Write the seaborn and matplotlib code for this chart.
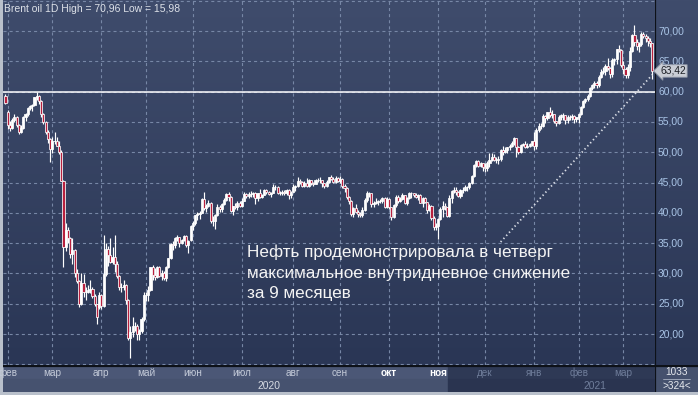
import numpy as np
import pandas as pd
import seaborn as sns
import matplotlib.pyplot as plt
from matplotlib.colors import LinearSegmentedColormap

# Brent oil, daily candles 31.01.2020 - 18.03.2021
open_ = [59.3,
    56.6, 54.5, 54.0, 55.3, 55.9, 54.5, 53.3, 54.0, 55.8, 56.3, 57.3, 57.7, 57.8, 59.1, 59.3, 58.5, 56.3, 55.0, 53.4, 52.2,
    50.5, 51.9, 51.9, 51.1, 50.0, 45.3, 34.4, 37.2, 35.8, 33.2, 33.9, 30.1, 28.7, 24.9, 28.5, 27.0, 27.0, 27.2, 27.4, 26.3, 24.9, 24.5,
    26.4, 24.7, 29.9, 34.1, 33.1, 31.9, 32.8, 31.5, 29.6, 27.7, 27.8, 28.1, 25.6, 19.3, 20.4, 21.3, 21.4, 20.0, 20.5, 22.5,
    26.5, 26.4, 27.2, 31.0, 29.7, 29.5, 31.0, 29.6, 30.0, 29.2, 31.1, 32.5, 34.8, 34.7, 35.8, 36.1, 35.1, 35.5, 36.2, 34.7, 35.6,
    37.8, 38.3, 39.6, 39.8, 40.0, 42.3, 40.8, 41.2, 41.7, 38.6, 38.7, 39.7, 41.0, 40.7, 41.5, 42.2, 43.1, 42.6, 40.3, 41.1, 41.0, 41.7,
    41.2, 42.0, 43.1, 42.8, 43.1, 43.1, 43.3, 42.4, 43.2, 42.7, 42.9, 43.8, 43.4, 43.1, 43.3, 44.3, 44.3, 43.3, 43.3, 43.4, 43.2, 43.8, 42.9,
    43.5, 44.2, 44.4, 45.2, 45.1, 44.4, 45.0, 44.5, 45.4, 45.0, 44.8, 45.4, 45.5, 45.4, 44.9, 44.4, 45.1, 45.9, 45.6, 45.1, 45.8,
    45.3, 45.6, 44.4, 44.1, 42.7, 42.0, 39.8, 40.8, 40.1, 39.8, 39.6, 40.5, 42.2, 43.3, 43.2, 41.4, 41.7, 41.8, 41.9, 41.9, 42.4, 41.0,
    42.3, 40.9, 39.3, 41.3, 42.7, 42.0, 42.3, 42.9, 41.7, 42.5, 43.3, 43.2, 42.9, 42.6, 42.9, 41.7, 42.5, 41.8, 40.5, 41.2, 39.1, 37.7,
    37.9, 39.0, 40.7, 41.2, 40.9, 39.5, 42.4, 43.6, 43.8, 43.5, 42.8, 43.8, 43.8, 44.3, 44.2, 45.0, 46.1, 47.9, 48.6, 47.8, 48.2,
    47.6, 47.4, 48.3, 48.7, 49.3, 48.8, 48.8, 48.9, 50.3, 50.0, 50.3, 50.8, 51.1, 51.5, 52.3, 50.9, 50.1, 51.2, 51.3, 50.9, 51.1, 51.3,
    51.8, 51.1, 53.6, 54.3, 54.4, 56.0, 55.7, 56.6, 56.1, 56.4, 55.1, 54.8, 55.9, 56.1, 56.1, 55.4, 55.9, 55.9, 56.0, 55.5,
    55.9, 56.4, 57.5, 58.5, 58.8, 59.3, 60.6, 61.1, 61.5, 61.1, 62.4, 63.3, 63.4, 64.3, 63.9, 62.9, 65.2, 65.4, 67.0, 66.9,
    64.4, 63.7, 62.7, 64.1, 66.7, 69.4, 68.2, 67.5, 67.9, 69.6, 69.2, 68.9, 68.4, 68.0]

high = [59.6,
    56.9, 55.1, 55.6, 56.4, 56.0, 54.6, 54.5, 56.0, 56.5, 57.4, 57.8, 58.0, 59.2, 59.9, 59.4, 58.6, 56.5, 55.2, 53.6, 52.3,
    52.5, 53.3, 52.6, 51.8, 50.4, 45.5, 38.4, 37.7, 36.0, 35.9, 34.0, 30.8, 29.0, 30.0, 29.9, 27.7, 28.1, 28.9, 27.8, 26.6, 25.0, 27.0,
    26.6, 36.3, 35.0, 34.5, 35.9, 34.4, 36.4, 32.0, 29.8, 28.5, 28.9, 28.3, 25.8, 21.3, 22.8, 22.0, 21.6, 20.9, 22.9, 26.9,
    26.9, 27.9, 31.0, 31.4, 30.9, 31.2, 31.3, 30.6, 30.4, 31.3, 32.6, 35.0, 35.3, 36.0, 36.4, 36.1, 35.7, 36.4, 36.3, 35.5, 38.0,
    38.6, 39.7, 40.1, 40.3, 42.5, 43.4, 41.5, 42.2, 41.8, 39.5, 39.8, 41.5, 41.3, 41.7, 42.5, 43.2, 43.5, 42.8, 41.2, 41.6, 41.9, 42.0,
    42.5, 43.5, 43.2, 43.5, 43.6, 43.5, 43.4, 43.3, 43.9, 43.1, 43.9, 43.9, 43.6, 43.5, 44.8, 44.6, 44.4, 43.6, 43.7, 43.8, 44.0, 43.9, 43.6,
    44.8, 44.6, 46.0, 45.6, 45.2, 45.3, 45.7, 45.6, 45.5, 45.1, 45.6, 45.7, 45.9, 45.5, 45.0, 45.4, 46.0, 46.2, 46.0, 46.1, 46.0,
    46.1, 45.7, 44.8, 44.2, 42.8, 42.2, 41.0, 41.4, 40.4, 40.2, 41.0, 42.4, 43.6, 43.5, 43.3, 42.0, 42.4, 42.2, 42.3, 42.6, 42.6, 42.6,
    42.4, 41.0, 41.5, 42.9, 42.9, 42.7, 43.2, 43.0, 42.6, 43.5, 43.4, 43.3, 43.2, 43.1, 43.1, 42.6, 42.6, 41.8, 41.5, 41.3, 39.5, 38.4,
    39.2, 40.9, 41.9, 41.6, 41.0, 43.0, 43.8, 44.3, 44.2, 43.6, 44.0, 44.2, 44.6, 44.5, 45.1, 46.3, 48.0, 48.7, 48.7, 48.4, 48.3,
    48.3, 48.5, 49.9, 49.9, 49.8, 49.3, 49.4, 50.5, 51.0, 50.9, 50.9, 51.3, 51.9, 52.5, 52.4, 51.0, 51.3, 51.5, 51.9, 51.6, 51.6, 51.9,
    53.3, 54.0, 54.9, 54.9, 56.3, 56.2, 56.7, 57.4, 56.9, 56.4, 55.2, 56.1, 56.3, 56.5, 56.2, 56.1, 56.2, 56.3, 56.1, 55.9,
    56.5, 57.6, 58.6, 59.0, 59.6, 60.7, 61.3, 61.7, 61.8, 62.8, 63.8, 64.0, 64.5, 65.5, 64.1, 65.5, 65.6, 67.1, 67.7, 67.0,
    65.0, 64.0, 64.6, 67.4, 69.6, 70.96, 68.7, 68.2, 69.8, 69.9, 69.5, 69.2, 68.8, 68.1]

low = [57.9,
    53.9, 53.5, 53.9, 55.0, 54.2, 53.1, 53.2, 53.9, 55.2, 56.0, 57.0, 56.8, 57.6, 58.6, 57.9, 55.9, 54.7, 53.1, 51.5, 48.4,
    49.9, 51.3, 51.0, 49.8, 45.2, 31.0, 33.7, 35.1, 32.6, 31.6, 29.5, 28.4, 24.5, 24.8, 26.2, 25.6, 26.8, 26.7, 25.9, 24.7, 21.7, 24.2,
    24.1, 24.5, 29.6, 31.2, 31.8, 31.5, 30.3, 29.3, 27.3, 27.0, 27.2, 25.0, 19.0, 15.98, 19.6, 20.5, 19.1, 19.0, 20.1, 22.2,
    25.4, 25.5, 27.1, 29.0, 28.9, 29.2, 29.4, 28.9, 29.0, 28.7, 30.9, 32.4, 33.9, 34.2, 35.4, 34.4, 34.9, 35.3, 34.4, 33.3, 35.4,
    37.1, 38.0, 38.9, 39.0, 39.9, 40.5, 40.2, 40.9, 38.3, 37.9, 37.3, 39.5, 40.2, 40.1, 41.3, 41.9, 41.9, 40.1, 39.6, 40.6, 40.5, 40.9,
    41.0, 41.9, 42.4, 42.4, 42.6, 42.6, 41.5, 41.9, 42.5, 42.4, 42.9, 43.1, 42.9, 42.7, 43.2, 43.8, 43.1, 42.9, 42.9, 43.0, 43.0, 42.3, 42.5,
    43.4, 43.6, 44.3, 44.8, 44.2, 44.2, 44.3, 44.3, 44.6, 44.5, 44.7, 45.1, 45.0, 44.3, 44.1, 44.3, 45.0, 45.4, 44.9, 44.9, 45.1,
    45.0, 44.1, 43.5, 42.3, 41.5, 39.5, 39.4, 39.9, 39.4, 39.3, 39.4, 40.3, 41.8, 42.7, 40.9, 41.0, 41.4, 41.3, 41.6, 41.6, 40.8, 40.8,
    40.6, 38.9, 39.2, 41.0, 41.6, 41.8, 42.1, 41.5, 41.3, 42.3, 42.5, 42.6, 42.4, 42.2, 41.6, 41.0, 41.6, 40.0, 40.3, 38.9, 37.1, 37.2,
    35.7, 38.8, 39.4, 40.4, 39.3, 39.3, 41.6, 43.3, 43.0, 42.6, 42.5, 43.2, 43.6, 43.6, 44.0, 44.7, 45.9, 47.6, 47.6, 47.5, 46.9,
    46.8, 46.9, 47.5, 48.5, 48.5, 48.2, 48.1, 48.6, 49.6, 49.9, 49.9, 50.4, 50.9, 51.2, 49.2, 49.7, 49.9, 51.0, 50.7, 50.7, 50.9, 51.1,
    50.4, 50.5, 53.4, 53.9, 54.2, 54.8, 55.3, 55.9, 55.6, 54.8, 54.3, 54.7, 55.4, 55.4, 54.7, 54.9, 55.3, 55.4, 54.8, 55.0,
    54.9, 56.2, 57.3, 58.1, 58.5, 59.2, 60.2, 60.6, 60.6, 60.8, 62.3, 62.9, 62.8, 63.5, 62.3, 62.4, 64.4, 64.6, 66.5, 64.0,
    62.9, 62.3, 62.2, 63.4, 66.5, 67.5, 66.8, 66.6, 67.6, 68.8, 68.2, 67.5, 67.4, 62.1]

close = [58.2,
    54.5, 54.0, 55.3, 55.9, 54.5, 53.3, 54.0, 55.8, 56.3, 57.3, 57.7, 57.8, 59.1, 59.3, 58.5, 56.3, 55.0, 53.4, 52.2, 50.5,
    51.9, 51.9, 51.1, 50.0, 45.3, 34.4, 37.2, 35.8, 33.2, 33.9, 30.1, 28.7, 24.9, 28.5, 27.0, 27.0, 27.2, 27.4, 26.3, 24.9, 22.8, 26.4,
    24.7, 29.9, 34.1, 33.1, 31.9, 32.8, 31.5, 29.6, 27.7, 27.8, 28.1, 25.6, 19.3, 20.4, 21.3, 21.4, 20.0, 20.5, 22.5, 26.5,
    26.4, 27.2, 31.0, 29.7, 29.5, 31.0, 29.6, 30.0, 29.2, 31.1, 32.5, 34.8, 34.7, 35.8, 36.1, 35.1, 35.5, 36.2, 34.7, 35.3, 37.8,
    38.3, 39.6, 39.8, 40.0, 42.3, 40.8, 41.2, 41.7, 38.6, 38.7, 39.7, 41.0, 40.7, 41.5, 42.2, 43.1, 42.6, 40.3, 41.1, 41.0, 41.7, 41.2,
    42.0, 43.1, 42.8, 43.1, 43.1, 43.3, 42.4, 43.2, 42.7, 42.9, 43.8, 43.4, 43.1, 43.3, 44.3, 44.3, 43.3, 43.3, 43.4, 43.2, 43.8, 42.9, 43.3,
    44.2, 44.4, 45.2, 45.1, 44.4, 45.0, 44.5, 45.4, 45.0, 44.8, 45.4, 45.5, 45.4, 44.9, 44.4, 45.1, 45.9, 45.6, 45.1, 45.8, 45.3,
    45.6, 44.4, 44.1, 42.7, 42.0, 39.8, 40.8, 40.1, 39.8, 39.6, 40.5, 42.2, 43.3, 43.2, 41.4, 41.7, 41.8, 41.9, 41.9, 42.4, 41.0, 42.3,
    40.9, 39.3, 41.3, 42.7, 42.0, 42.3, 42.9, 41.7, 42.5, 43.3, 43.2, 42.9, 42.6, 42.9, 41.7, 42.5, 41.8, 40.5, 41.2, 39.1, 37.7, 37.9,
    39.0, 40.7, 41.2, 40.9, 39.5, 42.4, 43.6, 43.8, 43.5, 42.8, 43.8, 43.8, 44.3, 44.2, 45.0, 46.1, 47.9, 48.6, 47.8, 48.2, 47.6,
    47.4, 48.3, 48.7, 49.3, 48.8, 48.8, 48.9, 50.3, 50.0, 50.3, 50.8, 51.1, 51.5, 52.3, 50.9, 50.1, 51.2, 51.3, 50.9, 51.1, 51.3, 51.8,
    51.1, 53.6, 54.3, 54.4, 56.0, 55.7, 56.6, 56.1, 56.4, 55.1, 54.8, 55.9, 56.1, 56.1, 55.4, 55.9, 55.9, 56.0, 55.5, 55.9,
    56.4, 57.5, 58.5, 58.8, 59.3, 60.6, 61.1, 61.5, 61.1, 62.4, 63.3, 63.4, 64.3, 63.9, 62.9, 65.2, 65.4, 67.0, 66.9, 64.4,
    63.7, 62.7, 64.1, 66.7, 69.4, 68.2, 67.5, 67.9, 69.6, 69.2, 68.9, 68.4, 68.0, 63.42]

holidays = ['2020-04-10', '2020-04-13', '2020-12-25', '2021-01-01']
month_names = ['янв', 'фев', 'мар', 'апр', 'май', 'июн', 'июл', 'авг', 'сен', 'окт', 'ноя', 'дек']
bold_months = ['2020-10', '2020-11']
y_ticks = [15, 20, 25, 30, 35, 40, 45, 50, 55, 60, 65, 70, 75]
level = 60
trend_dates = ['2020-12-10', '2021-03-18']
trend_values = [35.2, 62.8]
split_date = '2020-11-09'
counter = ['1033', '>324<']
title = 'Brent oil 1D'
note = ('Нефть продемонстрировала в четверг\n'
        'максимальное внутридневное снижение\n'
        'за 9 месяцев')

days = pd.bdate_range('2020-01-31', '2021-03-18')
days = days[~days.isin(pd.to_datetime(holidays))]
df = pd.DataFrame({'date': days, 'open': open_, 'high': high, 'low': low, 'close': close})
df['i'] = np.arange(len(df))
pos = pd.Series(df['i'].values, index=df['date'])

sns.set_style('dark')
plt.rcParams['font.family'] = ['Liberation Sans', 'DejaVu Sans']
plt.rcParams['lines.scale_dashes'] = False

W, H = 698, 395
fig = plt.figure(figsize=(W / 100, H / 100), dpi=100, facecolor='#b9c0cb')

def box(x0, y0, x1, y1):
    # pixel box (top-left origin) -> figure fraction
    return [x0 / W, 1 - y1 / H, (x1 - x0) / W, (y1 - y0) / H]

def bare(a):
    a.set_xticks([])
    a.set_yticks([])
    for s in a.spines.values():
        s.set_visible(False)

xlim = (-1.1, 291.2)
ylim = (14.9, 75.13)
bg = LinearSegmentedColormap.from_list('bg', ['#2a3655', '#3f4c6c'])
grad = np.linspace(0, 1, 256).reshape(-1, 1)

# gradient background sits in its own axes behind the chart
axg = fig.add_axes(box(3, 0, 698, 365), zorder=0)
axg.imshow(grad, extent=[0, 1, 0, 1], aspect='auto', cmap=bg, origin='lower')
axg.set_xlim(0, 1)
axg.set_ylim(0, 1)
bare(axg)

# month starts
first = df.groupby(df['date'].dt.to_period('M'))['i'].first()
first = first[df.loc[first.values, 'date'].dt.day.values <= 5]

ax = fig.add_axes(box(3, 0, 655, 365), zorder=1)
ax.patch.set_alpha(0)

grid_kw = dict(colors='#7787a6', linewidths=0.8, linestyles=[(0, (2.2, 2.2))], zorder=2)
ax.hlines(y_ticks, *xlim, **grid_kw)
ax.vlines(first.values, *ylim, **grid_kw)
ax.axhline(level, color='white', lw=1.1, zorder=3)

# candles
up = df['close'] >= df['open']
ax.vlines(df['i'], df['low'], df['high'], color='white', lw=0.85, zorder=4)
ax.bar(df['i'], df['close'] - df['open'], bottom=df['open'], width=0.95,
       color=np.where(up, 'white', '#b8203e'), edgecolor='white', linewidth=0.55, zorder=5)

# trend line
trend = pd.DataFrame({'x': pos[pd.to_datetime(trend_dates)].values, 'y': trend_values})
sns.lineplot(data=trend, x='x', y='y', ax=ax, color='#d9dde6', lw=1.3,
             linestyle=(0, (1, 2)), zorder=6)
ax.set_xlabel('')
ax.set_ylabel('')
ax.set_xlim(xlim)
ax.set_ylim(ylim)
bare(ax)

ax.text(0.002, 0.988, f'{title} High = {max(high):.2f} Low = {min(low):.2f}'.replace('.', ','),
        transform=ax.transAxes, ha='left', va='top', fontsize=7.5, color='#dde1e8')
fig.text(247 / W, 1 - 245 / H, note, ha='left', va='top', fontsize=12.3,
         color='#f4f4f4', linespacing=1.42, zorder=5)

# right price scale
axr = fig.add_axes(box(655, 0, 698, 365), zorder=1)
axr.patch.set_alpha(0)
axr.set_xlim(0, 1)
axr.set_ylim(ylim)
bare(axr)
axr.axvline(0, color='#0d1118', lw=1.6)
for v in y_ticks[1:-1]:
    axr.text(0.07, v, f'{v:.2f}'.replace('.', ','), ha='left', va='center',
             fontsize=7.4, color='#a9c4e6')
axr.text(0.12, close[-1], f'{close[-1]:.2f}'.replace('.', ','), ha='left', va='center',
         fontsize=7.4, color='#1c1f26',
         bbox=dict(boxstyle='larrow,pad=0.12', fc='#c9cdd5', ec='#8e96a6', lw=0.6))

# time axis
axb = fig.add_axes(box(3, 365, 655, 392))
axb.set_xlim(xlim)
axb.set_ylim(0, 1)
bare(axb)
split = pos[pd.Timestamp(split_date)] - 0.5
frac = (split - xlim[0]) / (xlim[1] - xlim[0])
axb.axhspan(0.5, 1, xmax=frac, color='#4b5776')
axb.axhspan(0, 0.5, xmax=frac, color='#46526f')
axb.axhspan(0.5, 1, xmin=frac, color='#2e3955')
axb.axhspan(0, 0.5, xmin=frac, color='#2a3450')
axb.axhline(0.98, color='#0d1118', lw=1.6)

for per, i in first.items():
    key = str(per)
    if i >= split:
        col, fw = '#6f7d9a', 'normal'
    elif key in bold_months:
        col, fw = 'white', 'bold'
    else:
        col, fw = '#c3cad8', 'normal'
    axb.text(i, 0.7, month_names[per.month - 1], ha='center', va='center',
             fontsize=7.2, color=col, fontweight=fw)

for year, g in df.groupby(df['date'].dt.year):
    lo = g['i'].min()
    hi = g['i'].max() if year == 2020 else xlim[1]
    col = '#d6dae2' if (lo + hi) / 2 < split else '#6f7d9a'
    axb.text((lo + hi) / 2, 0.24, str(year), ha='center', va='center', fontsize=7.4, color=col)

# bottom-right counter
axc = fig.add_axes(box(655, 365, 698, 392))
axc.set_xlim(0, 1)
axc.set_ylim(0, 1)
bare(axc)
axc.set_facecolor('#45516d')
axc.axhline(0.98, color='#0d1118', lw=1.6)
axc.axvline(0, color='#0d1118', lw=1.6)
axc.text(0.5, 0.74, counter[0], ha='center', va='center', fontsize=7.2, color='#e6e9ee')
axc.plot([0.18, 0.82], [0.47, 0.47], color='#aab2c2', lw=0.6)
axc.text(0.5, 0.24, counter[1], ha='center', va='center', fontsize=7.2, color='#e6e9ee')

fig.savefig('out.png', dpi=100, facecolor=fig.get_facecolor())
